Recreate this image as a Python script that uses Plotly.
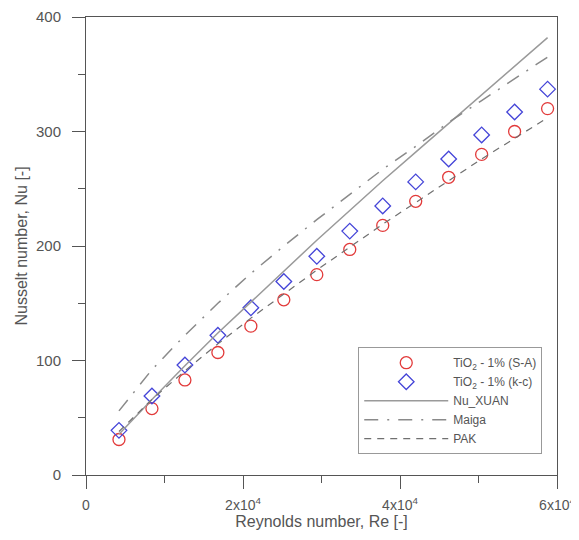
import plotly.graph_objects as go

# Data
re_exp = [4200, 8400, 12600, 16800, 21000, 25200, 29400, 33600, 37800, 42000, 46200, 50400, 54600, 58800]
nu_sa = [31, 58, 83, 107, 130, 153, 175, 197, 218, 239, 260, 280, 300, 320]
nu_kc = [39, 69, 96, 122, 146, 169, 191, 213, 235, 256, 276, 297, 317, 337]

re_corr = [4200, 8400, 12600, 16800, 21000, 25200, 29400, 33600, 37800, 42000, 46200, 50400, 54600, 58800]
nu_xuan = [35.5, 66, 95.5, 124, 151, 178, 205, 231, 257, 282, 307, 332, 357, 382]
nu_maiga = [56, 92, 122, 150, 176, 200, 223, 245, 267, 287, 308, 327, 346, 365]
nu_pak = [38, 66, 91, 114.5, 137, 158, 179, 199, 219, 238, 257, 276, 294, 312]

x_tickvals = [0, 20000, 40000, 60000]
x_ticktext = ["0", "2x10<sup>4</sup>", "4x10<sup>4</sup>", "6x10<sup>4</sup>"]
y_tickvals = [0, 100, 200, 300, 400]

FONT = "Liberation Sans, Arial, sans-serif"
TXT = "#555555"

fig = go.Figure()
fig.add_trace(go.Scatter(
    x=re_exp, y=nu_sa, mode="markers", name="TiO<sub>2</sub> - 1% (S-A)",
    marker=dict(symbol="circle-open", size=12, color="#e23a3a", line=dict(width=1.3, color="#e23a3a"))))
fig.add_trace(go.Scatter(
    x=re_exp, y=nu_kc, mode="markers", name="TiO<sub>2</sub> - 1% (k-c)",
    marker=dict(symbol="diamond-open", size=12, color="#4545d8", line=dict(width=1.3, color="#4545d8"))))
fig.add_trace(go.Scatter(
    x=re_corr, y=nu_xuan, mode="lines", name="Nu_XUAN",
    line=dict(color="#9a9a9a", width=1.5)))
fig.add_trace(go.Scatter(
    x=re_corr, y=nu_maiga, mode="lines", name="Maiga",
    line=dict(color="#8a8a8a", width=1.5, dash="14px,9px,2px,9px")))
fig.add_trace(go.Scatter(
    x=re_corr, y=nu_pak, mode="lines", name="PAK",
    line=dict(color="#707070", width=1.2, dash="7px,6px")))

fig.update_layout(
    width=571, height=532,
    margin=dict(l=78, r=22, t=9, b=65, autoexpand=False),
    paper_bgcolor="white", plot_bgcolor="white",
    font=dict(family=FONT, color=TXT, size=15),
    showlegend=True,
    legend=dict(
        x=0.578, y=0.279, xanchor="left", yanchor="top",
        bgcolor="white", bordercolor="#999999", borderwidth=1,
        font=dict(family=FONT, size=12, color=TXT),
        itemwidth=84, tracegroupgap=0,
    ),
)
fig.update_xaxes(
    range=[0, 60000], tickvals=x_tickvals, ticktext=x_ticktext,
    showgrid=False, zeroline=False, automargin=False,
    showline=True, linecolor="#555555", linewidth=1, mirror=True,
    ticks="outside", ticklen=13, tickcolor="#555555", ticklabelstandoff=4,
    minor=dict(dtick=10000, tick0=0, ticks="outside", ticklen=7, tickcolor="#555555"),
    title=dict(text="Reynolds number, Re [-]", font=dict(size=16, color=TXT), standoff=0),
    tickfont=dict(size=14, color=TXT),
)
fig.update_yaxes(
    range=[0, 400], tickvals=y_tickvals,
    showgrid=False, zeroline=False, automargin=False,
    showline=True, linecolor="#555555", linewidth=1, mirror=True,
    ticks="outside", ticklen=13, tickcolor="#555555", ticklabelstandoff=8,
    minor=dict(dtick=50, tick0=0, ticks="outside", ticklen=7, tickcolor="#555555"),
    title=dict(text="Nusselt number, Nu [-]", font=dict(size=16, color=TXT), standoff=4),
    tickfont=dict(size=15, color=TXT),
)

fig.write_html("out.html")
